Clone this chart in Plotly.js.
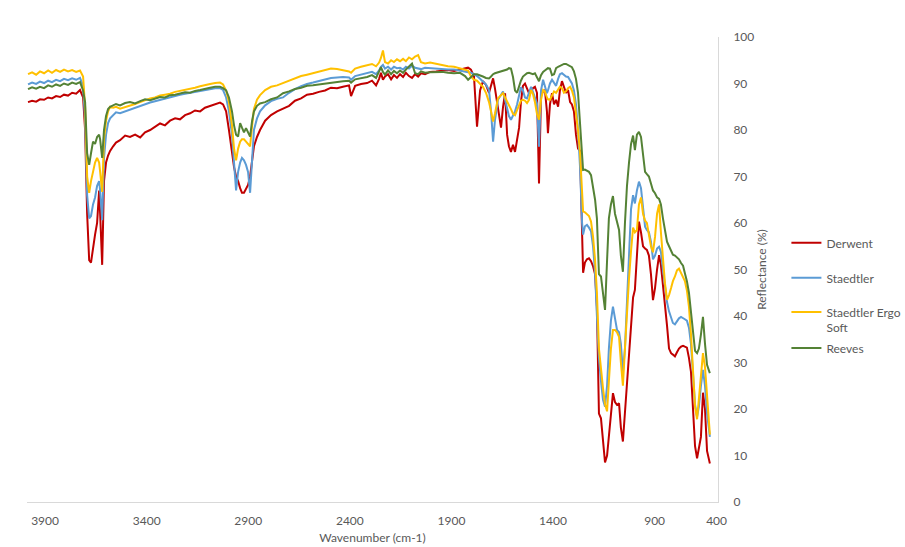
<!DOCTYPE html>
<html>
<head>
<meta charset="utf-8">
<script src="https://cdn.plot.ly/plotly-3.0.1.min.js"></script>
<style>html,body{margin:0;padding:0;background:#fff;}#chart{width:905px;height:547px;}</style>
</head>
<body>
<div id="chart"></div>
<script>
// Wavenumber (cm-1) sampled along the spectra
const wavenumber = [
3984,3964,3944,3925,3905,3885,3866,3846,3826,3807,3787,3767,3747,3728,3713,
3703,3693,3683,3674,3664,3654,3644,3634,3629,3619,3610,3600,3590,3580,
3565,3551,3531,3506,3482,3457,3432,3408,3383,3359,3334,3310,3285,3260,3236,3211,3186,3162,3137,3113,3088,3063,3039,3024,
3009,2995,2980,2970,2960,2950,2940,2931,2921,2911,2901,2891,2881,2872,2857,2842,
2817,2788,2758,2729,2699,2670,2640,2611,2581,2552,2522,2493,2463,2434,2404,2394,2374,2345,2315,2291,2271,2256,2247,2237,2227,2212,2197,2183,2168,2153,2138,2124,2109,2094,2079,2064,2050,2030,2005,1976,1946,1917,1887,1858,1833,1818,
1804,1789,1774,1759,1745,1730,1715,1705,1695,1686,1671,1656,1646,1636,1626,1617,1607,1597,1587,1577,1567,1558,1548,1538,1528,1518,1508,1499,1489,1479,1469,1459,1449,1440,1430,1425,1415,1405,1395,1385,1375,1366,1356,1346,1336,1326,1316,1307,1297,1287,1277,1267,1257,
1252,1243,1233,1223,1213,1203,1193,1184,1174,1164,1154,1144,1134,1125,1115,1105,1095,1085,1075,1066,1056,1046,1036,1026,1016,1006,997,987,977,967,957,947,938,928,918,908,898,888,878,869,859,849,839,829,819,810,800,790,780,770,760,751,741,731,721,711,701,691,682,672,662,652,642,632,628
];

const derwent = [
86.0,86.3,86.1,86.6,86.5,87.0,86.8,87.3,87.1,87.6,87.4,88.0,87.8,88.6,87.0,
80,62,52,51.5,55,57.5,60,67,62,51,69,73,74.5,75.5,
76.5,77.3,77.8,78.8,78.5,79.0,78.4,79.5,80.0,80.6,81.4,81.0,82.0,82.5,82.3,83.2,83.6,84.2,84.0,84.8,85.2,85.6,85.9,85.5,
84,80,75,72,70,69,67.5,66.5,66.5,67.5,68.2,70,74,76.5,78.5,80,
82,83.2,84,84.6,85.2,86.3,86.8,87.6,87.8,88.2,88.5,89.1,89.0,89.3,89.6,87.3,89.5,89.9,90.1,90.6,89.6,91.0,92.3,90.8,91.5,92.0,90.9,91.8,91.2,92.0,91.4,92.3,91.6,91.2,92.0,91.5,92.2,92.0,92.5,92.6,92.8,92.9,92.7,93.0,93.3,93.4,
93.0,91.5,80.7,88.5,90.5,89.7,88.0,89.5,91.1,89.0,84.3,80.5,85.0,87.9,79.0,76.5,75.3,76.8,75.3,78.0,80.5,86.0,89.5,90.0,88.8,87.9,88.3,89.0,89.3,88.0,68.5,87.5,88.3,88.6,84.0,79.3,85.5,87.9,85.5,86.5,85.0,88.5,90.5,89.0,88.0,88.6,86.0,85.5,84.0,79.0,76.0,75.5,58,
49.3,51.5,52.2,52.4,51.8,50.7,49,42,19,18,13,8.5,10,14.5,19,23.4,21.5,20.9,21.2,16,13,19,26,32,39,44,45.6,52,60.3,58,55,54.5,54.2,53,49,43.4,46,50,53.1,51,47,43.4,38,33,32,31.7,31.3,32.2,33,33.4,33.6,33.4,33.2,31,28,20,12,9.4,11.5,14,23.5,20,11,8.6,8.3
];

const staedtler = [
89.8,90.2,89.9,90.4,90.1,90.6,90.3,90.8,90.5,91.0,90.7,91.1,90.8,91.2,89.5,
82,66,61,61.5,64,65.5,68,69,67,60.6,74,79,81.5,82.5,
83.3,83.8,83.6,84.0,84.4,84.8,85.2,85.6,85.9,86.2,86.5,86.8,87.0,87.3,87.6,87.8,88.0,88.2,88.4,88.6,88.8,89.0,89.0,88.6,
87,84,79,73,67,71,73,74,73.5,72.5,71,66.5,75,80,82.5,84,
85.3,86.2,86.7,87.0,88.0,88.8,89.4,89.9,90.2,90.5,90.8,91.2,91.3,91.4,91.3,90.8,91.6,91.9,92.3,92.5,92.0,92.8,93.6,94.0,93.2,93.6,93.0,93.6,93.3,93.4,93.0,93.6,93.2,93.8,93.4,93.3,93.1,93.4,93.3,93.2,93.2,93.0,93.0,92.8,92.6,92.5,
92.3,92.0,91.6,91.0,90.5,89.8,88.6,84.0,77.5,82.0,86.5,87.5,88.3,86.5,84.5,83.0,82.2,83.0,84.0,85.5,87.5,89.2,88.5,87.0,86.8,88.0,89.3,88.2,87.0,85.7,76.4,88.5,90.8,89.5,87.9,88.5,90.0,90.8,90.0,89.5,91.0,92.0,92.2,91.8,91.5,91.4,90.8,90.0,88.5,85.5,80.0,72.0,60,
57.5,59.3,59.6,59.0,58.2,55,49.2,40,31,26,22,20.5,25,33,39,42,39.5,37,36.5,34,28,33,43,52,63,66,64.2,67,68.9,67.5,63,59.2,58.5,58,56,52.2,53,54.5,54.9,53.8,50,46,43,41,39.5,38.5,38.2,38.8,39.5,39.8,39.6,39.3,39,37.5,34,27,21,18.3,20.5,25,28.4,25,19,15.5,14
];

const staedtlerErgoSoft = [
92.0,92.4,91.9,92.6,92.2,92.8,92.3,92.9,92.5,93.0,92.6,92.9,92.5,92.8,91.5,
85,70,66.5,69,71,73,74,73,71,66.7,78,82,84,85,
84.8,85.0,84.6,84.9,85.3,85.6,86.0,86.4,86.8,87.0,87.4,87.6,87.8,88.2,88.4,88.6,88.9,89.1,89.4,89.7,89.9,90.1,90.2,89.8,
88.5,86,81,76,73.5,76,77.5,78,78,77.5,77,76.5,81,84.5,86.5,87.5,
88.6,89.3,89.6,90.1,90.6,91.0,91.6,91.9,92.2,92.5,92.8,93.2,93.1,92.8,92.6,92.3,93.2,93.6,94.0,94.2,93.7,94.5,95.5,97.1,94.6,94.3,95.0,94.6,95.2,94.8,95.3,94.8,95.6,95.2,95.8,96.1,94.6,94.3,94.5,94.2,94.0,93.7,93.6,93.3,93.0,92.8,
91.5,90.8,90.6,90.0,89.3,88.0,86.0,84.0,81.8,83.5,86.8,87.5,87.9,87.0,86.0,85.3,84.5,83.5,83.2,84.3,85.3,86.3,86.5,86.3,85.8,86.5,88.6,87.8,86.0,83.5,82.2,86.5,88.6,88.3,87.0,86.6,86.5,87.3,88.3,88.0,88.8,89.3,89.0,88.0,88.3,89.0,89.3,88.5,87.0,84.0,80.0,75.0,68,
62.5,62.3,61.8,61.5,60.3,57,52,45,33,28,24.5,21,19.5,26,33,37,37,36.5,35.5,30,25,33,42,48,54,59,58,58.5,64,65.5,62,60.5,60,57.5,55,53.7,57,62,64,58,52,47,43.5,44.5,46,47.5,48.5,49.8,50.2,49.3,48.5,47.5,45.5,42,36,28,20.5,17.8,22,28,32,29,22,16,14.5
];

const reeves = [
88.8,89.2,88.9,89.3,89.0,89.6,89.3,89.8,89.5,90.0,89.7,90.2,89.9,90.3,88.5,
86,75,72.5,75,77.5,77,78.5,79,78,74,80,83,84.5,85,
85.3,85.6,85.3,85.8,86.0,85.7,86.2,86.6,86.4,86.8,87.1,87.0,87.5,87.6,87.9,88.1,88.0,88.4,88.6,88.9,89.1,89.3,89.3,89.0,
88.5,87,84,81,79,78.6,81.5,80.5,79.5,80.4,79.5,78.6,82,84,85.2,85.7,
86.0,86.6,87.0,87.9,88.3,88.8,89.1,89.5,89.6,89.8,90.0,90.1,90.3,90.5,90.6,90.2,90.9,91.1,91.4,91.8,91.2,92.6,93.5,92.5,91.9,92.8,92.0,92.7,92.2,92.8,92.3,93.0,93.6,94.3,92.2,92.0,92.6,92.3,92.4,92.4,92.5,92.3,92.2,92.3,91.6,90.8,
91.4,92.0,92.0,91.8,91.5,91.2,91.1,91.5,92.0,92.2,92.4,92.6,92.8,92.9,93.0,93.3,93.2,91.4,88.5,88.0,89.5,90.6,91.5,91.8,92.2,92.3,92.2,92.0,92.2,91.3,90.5,91.8,92.5,92.8,93.2,93.3,93.2,91.8,92.0,93.3,93.6,93.8,94.0,94.2,94.2,94.0,93.8,93.5,92.6,91.0,88.0,82.0,75,
71.4,71.5,71.3,71.0,70.3,68,65,61,49,48.5,45,41.3,52,61,64,65.8,62,60.5,58.5,53,49.5,60,68,73,77,78.8,75.7,79,79.6,78.5,74,71,70.5,70,68.5,67,66.4,65.5,65.2,64,61,58,56,55,54,53.2,53,52.6,52.2,51.4,50.8,49.2,47.5,45,41,36,32.5,32,33,36,39.8,34,29.5,28.2,27.7
];

const seriesNames = ['Derwent', 'Staedtler', 'Staedtler Ergo<br>Soft', 'Reeves'];
const seriesValues = [derwent, staedtler, staedtlerErgoSoft, reeves];
const seriesColors = ['#C00000', '#5B9BD5', '#FFC000', '#548235'];
const tickValues = [3900, 3400, 2900, 2400, 1900, 1400, 900, 595];
const tickLabels = ['3900', '3400', '2900', '2400', '1900', '1400', '900', '400'];

const legendIds = ['legend', 'legend2', 'legend3', 'legend4'];
const legendY = [0.557, 0.4817, 0.391, 0.331];

const font = {family: 'Lato, "Open Sans", sans-serif', size: 12, color: '#595959'};

const traces = seriesValues.map((vals, i) => ({
  type: 'scatter',
  mode: 'lines',
  x: wavenumber,
  y: vals,
  name: seriesNames[i],
  legend: legendIds[i],
  line: {color: seriesColors[i], width: 2},
  hoverinfo: 'x+y+name'
}));

const layout = {
  width: 905,
  height: 547,
  margin: {l: 27, r: 187, t: 37, b: 45, autoexpand: false},
  paper_bgcolor: '#ffffff',
  plot_bgcolor: '#ffffff',
  font: font,
  showlegend: true,
  xaxis: {
    range: [3989, 588],
    showline: true, linecolor: '#d9d9d9', linewidth: 1,
    showgrid: false, zeroline: false, ticks: '',
    tickvals: tickValues, ticktext: tickLabels,
    tickfont: font,
    ticklabelstandoff: 8,
    title: {text: 'Wavenumber (cm-1)', font: font, standoff: 6}
  },
  yaxis: {
    side: 'right',
    range: [0, 100],
    dtick: 10,
    showline: true, linecolor: '#d9d9d9', linewidth: 1,
    showgrid: false, zeroline: false, ticks: '',
    tickfont: font,
    ticklabelstandoff: 12,
    title: {text: 'Reflectance (%)', font: font, standoff: 4}
  }
};
legendIds.forEach((id, i) => {
  layout[id] = {
    x: 1.099, xanchor: 'left', y: legendY[i], yanchor: 'middle',
    bgcolor: 'rgba(0,0,0,0)', font: font, valign: 'top'
  };
});

Plotly.newPlot('chart', traces, layout, {displayModeBar: false, staticPlot: true});
</script>
</body>
</html>
